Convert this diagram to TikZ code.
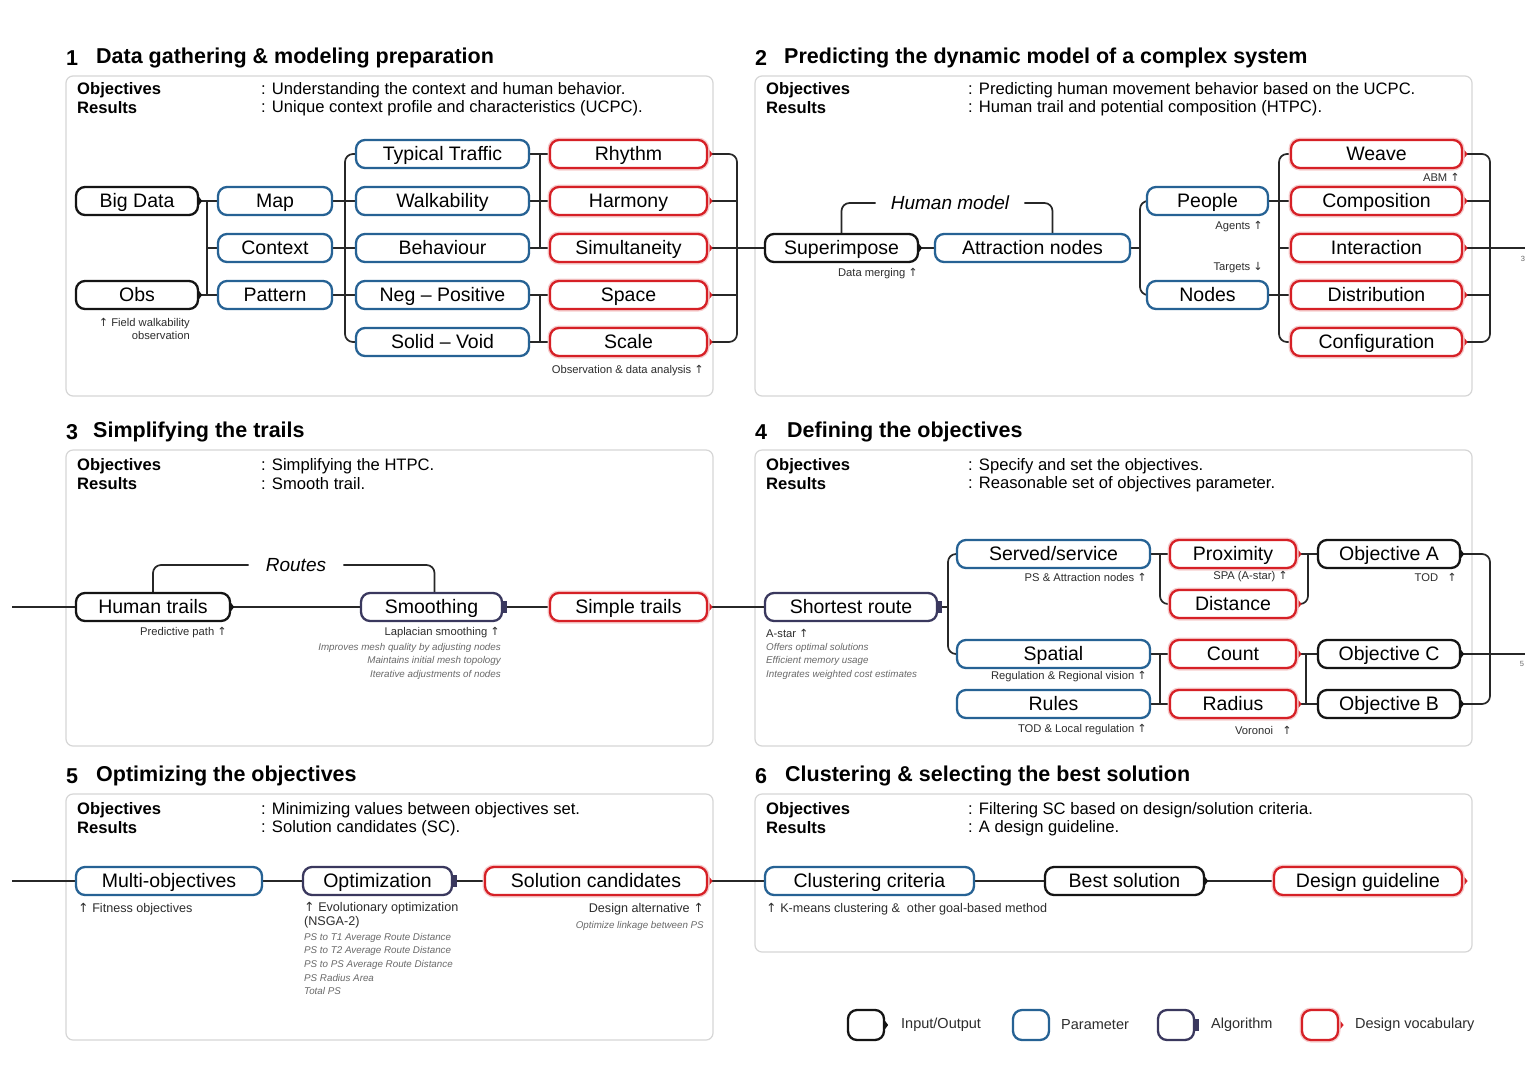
\documentclass[tikz,border=0pt]{standalone}
\usepackage{fontspec}
\setmainfont{Liberation Sans}
\newfontfamily\arrfont{DejaVu Sans}
\usetikzlibrary{calc,backgrounds}
\definecolor{ioc}{RGB}{20,20,20}
\definecolor{parc}{RGB}{38,98,148}
\definecolor{algc}{RGB}{58,56,94}
\definecolor{vocc}{RGB}{214,32,38}
\definecolor{framec}{RGB}{214,214,214}
\definecolor{lblc}{RGB}{45,45,45}
\definecolor{itc}{RGB}{105,105,105}
\newcommand{\upa}{{\arrfont ↑}}
\newcommand{\dna}{{\arrfont ↓}}
\newcommand{\ndfont}{\fontsize{19.5}{22}\selectfont}
\newcommand{\ttlfont}{\fontsize{21.5}{24}\selectfont\bfseries}
\newcommand{\objfont}{\fontsize{16.6}{19}\selectfont}
\newcommand{\lblfont}{\fontsize{11.2}{13}\selectfont}
\newcommand{\lblbfont}{\fontsize{12.6}{14}\selectfont}
\newcommand{\itfont}{\fontsize{9.8}{13.6}\selectfont\itshape}
\tikzset{
  box/.style={draw, fill=white, rounded corners=9pt, line width=2.3pt, minimum height=28pt, inner sep=0pt, text height=14pt, text depth=1pt, font=\ndfont, text=black},
  iobox/.style={box, draw=ioc, append after command={\pgfextra{\fill[ioc, sharp corners] ([yshift=4pt]\tikzlastnode.east) -- ++(3pt,-4pt) -- ++(-3pt,-4pt) -- cycle;}}},
  parbox/.style={box, draw=parc},
  algbox/.style={box, draw=algc, append after command={\pgfextra{\fill[algc, sharp corners] ([xshift=-0.5pt,yshift=6pt]\tikzlastnode.east) rectangle ++(4pt,-12pt);}}},
  vocbox/.style={box, draw=vocc, preaction={draw=vocc!22, line width=5pt}, append after command={\pgfextra{\fill[vocc, sharp corners] ([xshift=-0.5pt,yshift=6pt]\tikzlastnode.east) -- ++(5pt,-6pt) -- ++(-5pt,-6pt) -- cycle;}}},
  legbox/.style={minimum width=36pt, minimum height=30pt, rounded corners=9pt},
  conn/.style={draw=ioc!92, line width=1.7pt, rounded corners=8pt},
  frame/.style={draw=framec, line width=1.2pt, rounded corners=7pt},
  ttl/.style={font=\ttlfont, anchor=west, inner sep=0pt},
  objb/.style={font=\objfont\bfseries, anchor=west, inner sep=0pt},
  objt/.style={font=\objfont, anchor=west, inner sep=0pt},
  lbl/.style={font=\lblfont, text=lblc, inner sep=0pt},
  lblb/.style={font=\lblbfont, text=lblc, inner sep=0pt},
  itl/.style={font=\itfont, text=itc, inner sep=0pt},
  grp/.style={font=\fontsize{19}{22}\selectfont\itshape, inner ysep=0pt, inner xsep=15pt},
  tiny/.style={font=\fontsize{7.5}{9}\selectfont, text=itc, inner sep=0pt},
  legt/.style={font=\fontsize{14.5}{16}\selectfont, text=lblc, anchor=west, inner sep=0pt}
}
\begin{document}
\begin{tikzpicture}[x=1pt,y=-1pt]
\useasboundingbox (0,0) rectangle (1536,1080);
\begin{scope}[on background layer]
\fill[white] (0,0) rectangle (1536,1080);
\draw[frame] (66,76) rectangle (713,396);
\draw[frame] (755,76) rectangle (1472,396);
\draw[frame] (66,450) rectangle (713,746);
\draw[frame] (755,450) rectangle (1472,746);
\draw[frame] (66,794) rectangle (713,1040);
\draw[frame] (755,794) rectangle (1472,952);
\end{scope}

% ---------- titles ----------
\node[ttl] (n1) at (66,58) {1};
\node[ttl] (t1) at (96,58) {Data gathering \& modeling preparation};
\node[ttl] (n2) at (755,58) {2};
\node[ttl] (t2) at (784,58) {Predicting the dynamic model of a complex system};
\node[ttl] (n3) at (66,432) {3};
\node[ttl] (t3) at (93,432) {Simplifying the trails};
\node[ttl] (n4) at (755,432) {4};
\node[ttl] (t4) at (787,432) {Defining the objectives};
\node[ttl] (n5) at (66,776) {5};
\node[ttl] (t5) at (96,776) {Optimizing the objectives};
\node[ttl] (n6) at (755,776) {6};
\node[ttl] (t6) at (785,776) {Clustering \& selecting the best solution};

% ---------- objectives ----------
\node[objb] (o1a) at (77,90) {Objectives};
\node[objb] (o1b) at (77,108) {Results};
\node[objt] (o1c) at (261,90) {: Understanding the context and human behavior.};
\node[objt] (o1d) at (261,108) {: Unique context profile and characteristics (UCPC).};
\node[objb] (o2a) at (766,90) {Objectives};
\node[objb] (o2b) at (766,108) {Results};
\node[objt] (o2c) at (968,90) {: Predicting human movement behavior based on the UCPC.};
\node[objt] (o2d) at (968,108) {: Human trail and potential composition (HTPC).};
\node[objb] (o3a) at (77,466) {Objectives};
\node[objb] (o3b) at (77,484) {Results};
\node[objt] (o3c) at (261,466) {: Simplifying the HTPC.};
\node[objt] (o3d) at (261,484) {: Smooth trail.};
\node[objb] (o4a) at (766,466) {Objectives};
\node[objb] (o4b) at (766,484) {Results};
\node[objt] (o4c) at (968,466) {: Specify and set the objectives.};
\node[objt] (o4d) at (968,484) {: Reasonable set of objectives parameter.};
\node[objb] (o5a) at (77,810) {Objectives};
\node[objb] (o5b) at (77,828) {Results};
\node[objt] (o5c) at (261,810) {: Minimizing values between objectives set.};
\node[objt] (o5d) at (261,828) {: Solution candidates (SC).};
\node[objb] (o6a) at (766,810) {Objectives};
\node[objb] (o6b) at (766,828) {Results};
\node[objt] (o6c) at (968,810) {: Filtering SC based on design/solution criteria.};
\node[objt] (o6d) at (968,828) {: A design guideline.};

% ---------- panel 1 nodes ----------
\node[iobox, minimum width=122] (bigdata) at (137,201) {Big Data};
\node[iobox, minimum width=122] (obs) at (137,295) {Obs};
\node[parbox, minimum width=114] (map) at (275,201) {Map};
\node[parbox, minimum width=114] (context) at (275,248) {Context};
\node[parbox, minimum width=114] (pattern) at (275,295) {Pattern};
\node[parbox, minimum width=173] (traffic) at (442.5,154) {Typical Traffic};
\node[parbox, minimum width=173] (walk) at (442.5,201) {Walkability};
\node[parbox, minimum width=173] (behav) at (442.5,248) {Behaviour};
\node[parbox, minimum width=173] (neg) at (442.5,295) {Neg -- Positive};
\node[parbox, minimum width=173] (solid) at (442.5,342) {Solid -- Void};
\node[vocbox, minimum width=157] (rhythm) at (628.5,154) {Rhythm};
\node[vocbox, minimum width=157] (harmony) at (628.5,201) {Harmony};
\node[vocbox, minimum width=157] (simul) at (628.5,248) {Simultaneity};
\node[vocbox, minimum width=157] (space) at (628.5,295) {Space};
\node[vocbox, minimum width=157] (scale) at (628.5,342) {Scale};
\node[lbl, anchor=north east, align=right] (l1a) at (190,318) {\upa\ Field walkability\\observation};
\node[lbl, anchor=east] (l1b) at (704,371) {Observation \& data analysis \upa};

% ---------- panel 2 nodes ----------
\node[iobox, minimum width=153] (super) at (841.5,248) {Superimpose};
\node[parbox, minimum width=195] (attr) at (1032.5,248) {Attraction nodes};
\node[parbox, minimum width=121] (people) at (1207.5,201) {People};
\node[parbox, minimum width=121] (nodes) at (1207.5,295) {Nodes};
\node[vocbox, minimum width=171] (weave) at (1376.5,154) {Weave};
\node[vocbox, minimum width=171] (compo) at (1376.5,201) {Composition};
\node[vocbox, minimum width=171] (interact) at (1376.5,248) {Interaction};
\node[vocbox, minimum width=171] (distr) at (1376.5,295) {Distribution};
\node[vocbox, minimum width=171] (config) at (1376.5,342) {Configuration};
\node[grp] (hm) at (950,203) {Human model};
\node[lbl, anchor=east] (l2a) at (918,274) {Data merging \upa};
\node[lbl, anchor=east] (l2b) at (1263,227) {Agents \upa};
\node[lbl, anchor=east] (l2c) at (1263,268) {Targets \dna};
\node[lbl, anchor=east] (l2d) at (1460,177) {ABM \upa};
\node[tiny] (l2e) at (1523,259) {3};

% ---------- panel 3 nodes ----------
\node[iobox, minimum width=154] (human) at (153,607) {Human trails};
\node[algbox, minimum width=141] (smooth) at (431.5,607) {Smoothing};
\node[vocbox, minimum width=157] (simple) at (628.5,607) {Simple trails};
\node[grp, inner xsep=17pt] (routes) at (296,565) {Routes};
\node[lbl, anchor=east] (l3a) at (227,633) {Predictive path \upa};
\node[lbl, anchor=east] (l3b) at (500,633) {Laplacian smoothing \upa};
\node[itl, anchor=north east, align=right] (l3c) at (501,643) {Improves mesh quality by adjusting nodes\\Maintains initial mesh topology\\Iterative adjustments of nodes};

% ---------- panel 4 nodes ----------
\node[algbox, minimum width=172] (shortest) at (851,607) {Shortest route};
\node[parbox, minimum width=193] (served) at (1053.5,554) {Served/service};
\node[parbox, minimum width=193] (spatial) at (1053.5,654) {Spatial};
\node[parbox, minimum width=193] (rules) at (1053.5,704) {Rules};
\node[vocbox, minimum width=126] (prox) at (1233,554) {Proximity};
\node[vocbox, minimum width=126] (dist) at (1233,604) {Distance};
\node[vocbox, minimum width=126] (count) at (1233,654) {Count};
\node[vocbox, minimum width=126] (radius) at (1233,704) {Radius};
\node[iobox, minimum width=142] (objA) at (1389,554) {Objective A};
\node[iobox, minimum width=142] (objC) at (1389,654) {Objective C};
\node[iobox, minimum width=142] (objB) at (1389,704) {Objective B};
\node[lbl, anchor=west] (l4a) at (766,633) {A-star \upa};
\node[itl, anchor=north west, align=left] (l4b) at (766,643) {Offers optimal solutions\\Efficient memory usage\\Integrates weighted cost estimates};
\node[lbl, anchor=east] (l4c) at (1147,577) {PS \& Attraction nodes \upa};
\node[lbl, anchor=east] (l4d) at (1147,677) {Regulation \& Regional vision \upa};
\node[lbl, anchor=east] (l4e) at (1147,730) {TOD \& Local regulation \upa};
\node[lbl, anchor=east] (l4f) at (1288,577) {SPA (A-star) \upa};
\node[lbl, anchor=east] (l4g) at (1457,577) {TOD\ \ \ \upa};
\node[lbl, anchor=east] (l4h) at (1292,730) {Voronoi\ \ \ \upa};
\node[tiny] (l4i) at (1522,664) {5};

% ---------- panel 5 / 6 nodes ----------
\node[parbox, minimum width=186] (multi) at (169,881) {Multi-objectives};
\node[algbox, minimum width=149] (optim) at (377.5,881) {Optimization};
\node[vocbox, minimum width=222] (solcand) at (596,881) {Solution candidates};
\node[parbox, minimum width=209] (clust) at (869.5,881) {Clustering criteria};
\node[iobox, minimum width=159] (best) at (1124.5,881) {Best solution};
\node[vocbox, minimum width=188] (design) at (1368,881) {Design guideline};
\node[lblb, anchor=west] (l5a) at (78,909) {\upa\ Fitness objectives};
\node[lblb, anchor=north west, align=left] (l5b) at (304,902) {\upa\ Evolutionary optimization\\(NSGA-2)};
\node[itl, anchor=north west, align=left] (l5c) at (304,933) {PS to T1 Average Route Distance\\PS to T2 Average Route Distance\\PS to PS Average Route Distance\\PS Radius Area\\Total PS};
\node[lblb, anchor=east] (l5d) at (704,909) {Design alternative \upa};
\node[itl, anchor=east] (l5e) at (704,926) {Optimize linkage between PS};
\node[lblb, anchor=west] (l6a) at (766,909) {\upa\ K-means clustering \&\ \ other goal-based method};

% ---------- legend ----------
\node[iobox, legbox] (lgio) at (866,1025) {};
\node[legt] (lgiot) at (901,1025) {Input/Output};
\node[parbox, legbox] (lgpar) at (1031,1025) {};
\node[legt] (lgpart) at (1061,1025) {Parameter};
\node[algbox, legbox] (lgalg) at (1176,1025) {};
\node[legt] (lgalgt) at (1211,1025) {Algorithm};
\node[vocbox, legbox] (lgvoc) at (1320,1025) {};
\node[legt] (lgvoct) at (1355,1025) {Design vocabulary};

% ---------- connectors ----------
\begin{scope}[on background layer]
% panel 1
\coordinate (j1) at (207,248);
\draw[conn] (bigdata.east) -- (map.west);
\draw[conn] (obs.east) -- (pattern.west);
\draw[conn] (map.west -| j1) -- (pattern.west -| j1);
\draw[conn] (j1) -- (context.west);
\coordinate (j2) at (345,248);
\draw[conn] (traffic.west) -| (j2) |- (solid.west);
\draw[conn] (map.east) -- (walk.west);
\draw[conn] (context.east) -- (behav.west);
\draw[conn] (pattern.east) -- (neg.west);
\coordinate (j3) at (540,201);
\draw[conn] (traffic.east) -- (rhythm.west);
\draw[conn] (walk.east) -- (harmony.west);
\draw[conn] (behav.east) -- (simul.west);
\draw[conn] (neg.east) -- (space.west);
\draw[conn] (solid.east) -- (scale.west);
\draw[conn] (traffic.east -| j3) -- (behav.east -| j3);
\draw[conn] (neg.east -| j3) -- (solid.east -| j3);
\coordinate (j4) at (737,248);
\draw[conn] (rhythm.east) -| (j4) |- (scale.east);
\draw[conn] (harmony.east) -- (harmony.east -| j4);
\draw[conn] (space.east) -- (space.east -| j4);
\draw[conn] (simul.east) -- (super.west);
% panel 2
\draw[conn] (super.east) -- (attr.west);
\draw[conn] (super.north) |- (hm.west);
\draw[conn] ([xshift=20pt]attr.north) |- (hm.east);
\coordinate (j5) at (1140,248);
\draw[conn] (attr.east) -- (j5);
\draw[conn] (people.west) -| (j5) |- (nodes.west);
\draw[conn] (people.east) -- (compo.west);
\draw[conn] (nodes.east) -- (distr.west);
\coordinate (j6) at (1279,248);
\draw[conn] (weave.west) -| (j6) |- (config.west);
\draw[conn] (j6) -- (interact.west);
\coordinate (j7) at (1490,248);
\draw[conn] (weave.east) -| (j7) |- (config.east);
\draw[conn] (compo.east) -- (compo.east -| j7);
\draw[conn] (distr.east) -- (distr.east -| j7);
\coordinate (out3) at (1525,248);
\draw[conn] (interact.east) -- (out3);
% panel 3
\coordinate (in3) at (12,607);
\draw[conn] (in3) -- (human.west);
\draw[conn] (human.east) -- (smooth.west);
\draw[conn] (smooth.east) -- (simple.west);
\draw[conn] (simple.east) -- (shortest.west);
\draw[conn] (human.north) |- (routes.west);
\draw[conn] ([xshift=3pt]smooth.north) |- (routes.east);
% panel 4
\coordinate (j8) at (948,607);
\draw[conn] (shortest.east) -- (j8);
\draw[conn] (served.west) -| (j8) |- (spatial.west);
\draw[conn] (served.east) -- (prox.west);
\coordinate (j9) at (1160,554);
\draw[conn] (j9) |- (dist.west);
\draw[conn] (spatial.east) -- (count.west);
\draw[conn] (rules.east) -- (radius.west);
\draw[conn] (spatial.east -| j9) -- (rules.east -| j9);
\coordinate (j10) at (1308,554);
\draw[conn] (prox.east) -- (objA.west);
\draw[conn] (dist.east) -| (j10);
\draw[conn] (count.east) -- (objC.west);
\draw[conn] (radius.east) -- (objB.west);
\coordinate (j11) at (1306,654);
\draw[conn] (j11) -- (radius.east -| j11);
\coordinate (j12) at (1490,654);
\draw[conn] (objA.east) -| (j12) |- (objB.east);
\coordinate (out5) at (1525,654);
\draw[conn] (objC.east) -- (out5);
% panel 5 / 6
\coordinate (in5) at (12,881);
\draw[conn] (in5) -- (multi.west);
\draw[conn] (multi.east) -- (optim.west);
\draw[conn] (optim.east) -- (solcand.west);
\draw[conn] (solcand.east) -- (clust.west);
\draw[conn] (clust.east) -- (best.west);
\draw[conn] (best.east) -- (design.west);
\end{scope}
\end{tikzpicture}
\end{document}
